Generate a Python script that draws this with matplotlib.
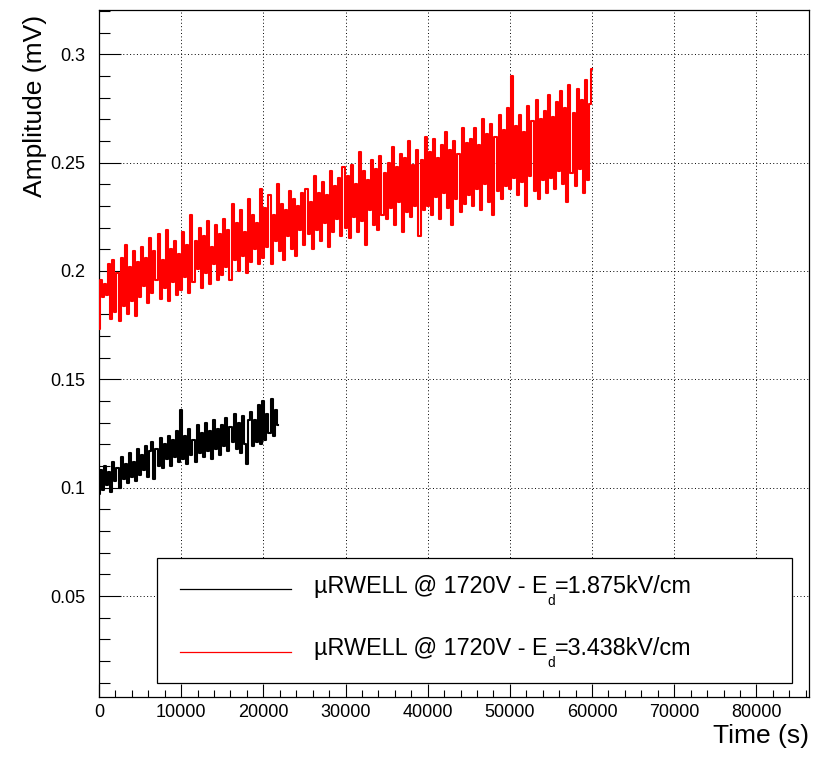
import numpy as np
import matplotlib
matplotlib.use("Agg")
import matplotlib.pyplot as plt
from matplotlib.lines import Line2D
from matplotlib.patches import Rectangle
from matplotlib.ticker import MultipleLocator, FuncFormatter

plt.rcParams['font.family'] = ['Liberation Sans', 'DejaVu Sans']

# sampling step of both traces (s)
dt = 250.0

# amplitude, in microvolt (Ed = 1.875 kV/cm)
amp_low_uV = [
    97, 108, 99, 110, 101, 107, 98, 112, 103, 109, 100, 114, 104, 111, 102, 116, 105, 112, 103, 118,
    106, 115, 108, 119, 105, 117, 121, 104, 118, 110, 123, 109, 120, 113, 124, 110, 122, 114, 126, 112,
    136, 113, 124, 111, 127, 115, 122, 112, 129, 116, 125, 114, 130, 117, 126, 113, 131, 118, 127, 115,
    129, 119, 132, 117, 128, 121, 134, 118, 130, 116, 133, 120, 111, 131, 135, 119, 131, 121, 138, 120,
    140, 122, 134, 125, 141, 124, 136, 129,
]

# amplitude, in microvolt (Ed = 3.438 kV/cm)
amp_high_uV = [
    173, 196, 188, 194, 189, 203, 178, 205, 181, 199, 177, 206, 184, 212, 180, 202, 186, 209, 179, 204,
    188, 211, 193, 206, 185, 215, 190, 209, 196, 217, 187, 205, 192, 219, 186, 210, 195, 214, 189, 208,
    191, 218, 197, 212, 190, 226, 195, 214, 201, 220, 192, 216, 199, 223, 194, 211, 203, 221, 196, 217,
    198, 224, 202, 219, 196, 231, 205, 222, 200, 228, 207, 218, 199, 233, 204, 226, 210, 222, 203, 238,
    206, 229, 211, 235, 203, 226, 214, 240, 209, 231, 205, 228, 216, 237, 210, 233, 207, 230, 219, 236,
    212, 238, 217, 232, 210, 244, 219, 236, 214, 241, 222, 235, 211, 246, 218, 239, 224, 243, 216, 248,
    220, 244, 215, 249, 225, 240, 218, 255, 223, 246, 212, 242, 228, 251, 221, 247, 219, 253, 226, 245,
    224, 250, 229, 257, 221, 248, 232, 254, 218, 252, 227, 260, 225, 249, 230, 256, 216, 251, 228, 262,
    230, 255, 226, 261, 234, 252, 224, 258, 236, 264, 229, 256, 221, 260, 233, 254, 227, 266, 231, 259,
    235, 261, 230, 266, 238, 258, 228, 270, 240, 263, 232, 268, 226, 262, 237, 272, 233, 265, 239, 275,
    238, 290, 243, 267, 235, 272, 241, 264, 230, 276, 244, 269, 237, 279, 233, 270, 242, 274, 236, 281,
    243, 271, 238, 278, 246, 283, 240, 275, 232, 286, 245, 273, 239, 284, 247, 279, 236, 288, 242, 277,
    293,
]

series_colors = ["black", "red"]
legend_main = ["µRWELL @ 1720V - E", "µRWELL @ 1720V - E"]
legend_sub = ["d", "d"]
legend_tail = ["=1.875kV/cm", "=3.438kV/cm"]

W, H = 825, 760
fig = plt.figure(figsize=(W / 100, H / 100), dpi=100)
ax = fig.add_axes([99 / W, 1 - 697 / H, 710 / W, 687 / H])

traces = [amp_low_uV, amp_high_uV]
for amp, col in zip(traces, series_colors):
    t = np.arange(len(amp)) * dt
    # step drawing: the vertical jumps between samples fill the band
    ax.plot(t, np.array(amp) / 1000.0, color=col, lw=1.5,
            drawstyle='steps-mid', zorder=3)

ax.set_xlim(0, 86400)
ax.set_ylim(0.0034, 0.3204)
ax.xaxis.set_major_locator(MultipleLocator(10000))
ax.xaxis.set_minor_locator(MultipleLocator(2000))
ax.yaxis.set_major_locator(MultipleLocator(0.05))
ax.yaxis.set_minor_locator(MultipleLocator(0.01))
fmt = FuncFormatter(lambda v, p: "%g" % round(v, 4))
ax.xaxis.set_major_formatter(fmt)
ax.yaxis.set_major_formatter(fmt)

ax.tick_params(which='both', direction='in', width=0.8, colors='black')
ax.tick_params(axis='y', which='major', length=15.5, labelsize=13, pad=10)
ax.tick_params(axis='y', which='minor', length=7.7)
ax.tick_params(axis='x', which='major', length=9.2, labelsize=13, pad=5)
ax.tick_params(axis='x', which='minor', length=4.8)
for s in ax.spines.values():
    s.set_linewidth(0.9)

ax.grid(True, which='major', color='black', linestyle=(0, (1, 2.5)), lw=0.7)
ax.set_axisbelow(True)

ax.set_xlabel("Time (s)", fontsize=19, loc='right')
ax.xaxis.set_label_coords(1.0, -0.039)
ax.set_ylabel("Amplitude (mV)", fontsize=19, loc='top')
ax.yaxis.set_label_coords(-0.073, 0.993)

# legend box, drawn like the ROOT TLegend
fig.add_artist(Rectangle((156.6 / W, 1 - 683 / H), 635 / W, 125 / H,
                         transform=fig.transFigure, facecolor='white',
                         edgecolor='black', lw=0.9, zorder=5))
renderer = fig.canvas.get_renderer()
line_y = [589, 652]
base_y = [593, 655]
fs = 16.8
for i in range(2):
    fig.add_artist(Line2D([179.5 / W, 291 / W], [1 - line_y[i] / H] * 2,
                          transform=fig.transFigure, color=series_colors[i],
                          lw=0.9, zorder=6))
    t1 = fig.text(314 / W, 1 - base_y[i] / H, legend_main[i], fontsize=fs,
                  va='baseline', ha='left', zorder=6)
    x1 = t1.get_window_extent(renderer).x1
    t2 = fig.text(x1 / W, 1 - (base_y[i] + 12) / H, legend_sub[i], fontsize=fs * 0.58,
                  va='baseline', ha='left', zorder=6)
    x2 = t2.get_window_extent(renderer).x1
    fig.text(x2 / W, 1 - base_y[i] / H, legend_tail[i], fontsize=fs,
             va='baseline', ha='left', zorder=6)

fig.savefig("out.png", dpi=100)
